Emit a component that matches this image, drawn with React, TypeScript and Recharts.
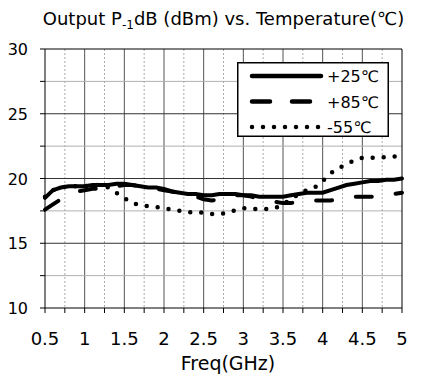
import React from "react";
import {
  LineChart,
  Line,
  XAxis,
  YAxis,
  CartesianGrid,
  ReferenceLine,
  Legend,
} from "recharts";

const FONT = "'DejaVu Sans', Verdana, sans-serif";

// frequency points (GHz)
const freqs = [
  0.5, 0.6, 0.7, 0.8, 0.9, 1.0, 1.1, 1.2, 1.3, 1.4, 1.5, 1.6, 1.7, 1.8, 1.9,
  2.0, 2.1, 2.2, 2.3, 2.4, 2.5, 2.6, 2.7, 2.8, 2.9, 3.0, 3.1, 3.2, 3.3, 3.4,
  3.5, 3.6, 3.7, 3.8, 3.9, 4.0, 4.1, 4.2, 4.3, 4.4, 4.5, 4.6, 4.7, 4.8, 4.9,
  5.0,
];

const p25 = [
  18.5, 19.1, 19.3, 19.4, 19.4, 19.4, 19.5, 19.5, 19.5, 19.6, 19.6, 19.5,
  19.4, 19.3, 19.3, 19.2, 19.0, 18.9, 18.8, 18.8, 18.7, 18.7, 18.8, 18.8,
  18.8, 18.7, 18.7, 18.6, 18.6, 18.6, 18.6, 18.7, 18.8, 18.9, 18.9, 18.9,
  19.1, 19.3, 19.5, 19.6, 19.7, 19.8, 19.8, 19.9, 19.9, 20.0,
];

const p85 = [
  17.6, 18.0, 18.4, 18.8, 19.0, 19.1, 19.2, 19.2, 19.3, 19.4, 19.5, 19.5,
  19.4, 19.3, 19.2, 19.1, 19.0, 18.9, 18.7, 18.6, 18.4, 18.3, 18.4, 18.6,
  18.7, 18.7, 18.6, 18.4, 18.3, 18.2, 18.1, 18.1, 18.2, 18.3, 18.3, 18.3,
  18.3, 18.4, 18.5, 18.6, 18.6, 18.6, 18.6, 18.7, 18.8, 18.9,
];

const m55 = [
  18.6, 19.1, 19.3, 19.4, 19.4, 19.4, 19.5, 19.5, 19.3, 18.9, 18.5, 18.1,
  17.95, 17.85, 17.8, 17.7, 17.6, 17.5, 17.4, 17.4, 17.35, 17.25, 17.25,
  17.35, 17.55, 17.7, 17.7, 17.6, 17.65, 17.7, 18.0, 18.4, 18.8, 19.1, 19.3,
  19.8, 20.4, 20.8, 21.1, 21.4, 21.6, 21.6, 21.6, 21.65, 21.7, 21.7,
];

const xTicks = [0.5, 0.75, 1, 1.25, 1.5, 1.75, 2, 2.25, 2.5, 2.75, 3, 3.25, 3.5, 3.75, 4, 4.25, 4.5, 4.75, 5];
const xMajor = [1, 1.5, 2, 2.5, 3, 3.5, 4, 4.5];
const xMinor = [0.75, 1.25, 1.75, 2.25, 2.75, 3.25, 3.75, 4.25, 4.75];
const yTicks = [10, 12.5, 15, 17.5, 20, 22.5, 25, 27.5, 30];
const yMajor = [15, 20, 25];
const yMinor = [12.5, 17.5, 22.5, 27.5];

const series = [
  { key: "p25", name: "+25℃", dash: undefined as string | undefined },
  { key: "p85", name: "+85℃", dash: "16 24" },
  { key: "m55", name: "-55℃", dash: "0 11" },
];

const data = freqs.map((f, i) => ({ f, p25: p25[i], p85: p85[i], m55: m55[i] }));

const isMajor = (v: number) => Math.abs(v * 2 - Math.round(v * 2)) < 1e-6;

const XTick = (props: any) => {
  const { x, y, payload } = props;
  if (!isMajor(payload.value)) return null;
  return (
    <text x={x} y={y + 32} textAnchor="middle" fontSize={18} fontFamily={FONT} fill="#000">
      {payload.value}
    </text>
  );
};

const YTick = (props: any) => {
  const { x, y, payload } = props;
  if (payload.value % 5 !== 0) return null;
  return (
    <text x={x} y={y + 6} textAnchor="end" fontSize={16} fontFamily={FONT} fill="#000">
      {payload.value}
    </text>
  );
};

const LegendBox = () => (
  <svg width={152} height={75} style={{ display: "block" }}>
    <rect x={0.75} y={0.75} width={150.5} height={73.5} fill="#fff" stroke="#000" strokeWidth={1.5} />
    {series.map((s, i) => {
      const cy = 14 + i * 25.5;
      return (
        <g key={s.key}>
          <line
            x1={15}
            x2={84}
            y1={cy}
            y2={cy}
            stroke="#000"
            strokeWidth={4.5}
            strokeLinecap="round"
            strokeDasharray={s.key === "p85" ? "18 22" : s.dash}
          />
          <text x={90} y={cy + 6} fontSize={16} fontFamily={FONT} fill="#000">
            {s.name}
          </text>
        </g>
      );
    })}
  </svg>
);

export default function App() {
  return (
    <div style={{ position: "absolute", left: 0, top: 0, width: 426, height: 385, background: "#fff" }}>
      <LineChart
        width={426}
        height={385}
        data={data}
        margin={{ top: 49, right: 24, bottom: 0, left: 0 }}
      >
        <CartesianGrid
          horizontal={false}
          verticalValues={xMinor}
          stroke="#aaa"
          strokeDasharray="2 2"
        />
        <CartesianGrid horizontal={false} verticalValues={xMajor} stroke="#555" />
        <CartesianGrid vertical={false} horizontalValues={yMinor} stroke="#b0b0b0" />
        <CartesianGrid vertical={false} horizontalValues={yMajor} stroke="#333" />
        <XAxis
          dataKey="f"
          type="number"
          domain={[0.5, 5]}
          ticks={xTicks}
          interval={0}
          height={77}
          tickSize={5}
          tickMargin={0}
          stroke="#000"
          tickLine={{ stroke: "#000" }}
          tick={<XTick />}
        />
        <YAxis
          type="number"
          domain={[10, 30]}
          ticks={yTicks}
          interval={0}
          width={45}
          tickSize={5}
          tickMargin={12}
          stroke="#000"
          tickLine={{ stroke: "#000" }}
          tick={<YTick />}
        />
        <ReferenceLine y={30} stroke="#000" strokeWidth={1} />
        <ReferenceLine x={5} stroke="#000" strokeWidth={1} />
        {series.map((s) => (
          <Line
            key={s.key}
            type="linear"
            dataKey={s.key}
            name={s.name}
            stroke="#000"
            strokeWidth={s.key === "m55" ? 4.5 : 4}
            strokeDasharray={s.dash}
            strokeLinecap="round"
            dot={false}
            activeDot={false}
            isAnimationActive={false}
          />
        ))}
        <Legend
          layout="vertical"
          align="center"
          verticalAlign="middle"
          wrapperStyle={{ left: 237, top: 62, width: 152, height: 75 }}
          content={<LegendBox />}
        />
      </LineChart>
      <svg
        width={426}
        height={385}
        style={{ position: "absolute", left: 0, top: 0, pointerEvents: "none" }}
      >
        <text x={223.5} y={25} textAnchor="middle" fontSize={18} fontFamily={FONT} fill="#000">
          Output P
          <tspan fontSize={12} dy={4}>-1</tspan>
          <tspan dy={-4}>dB (dBm) vs. Temperature(℃)</tspan>
        </text>
        <text x={228} y={370} textAnchor="middle" fontSize={19} fontFamily={FONT} fill="#000">
          Freq(GHz)
        </text>
      </svg>
    </div>
  );
}
